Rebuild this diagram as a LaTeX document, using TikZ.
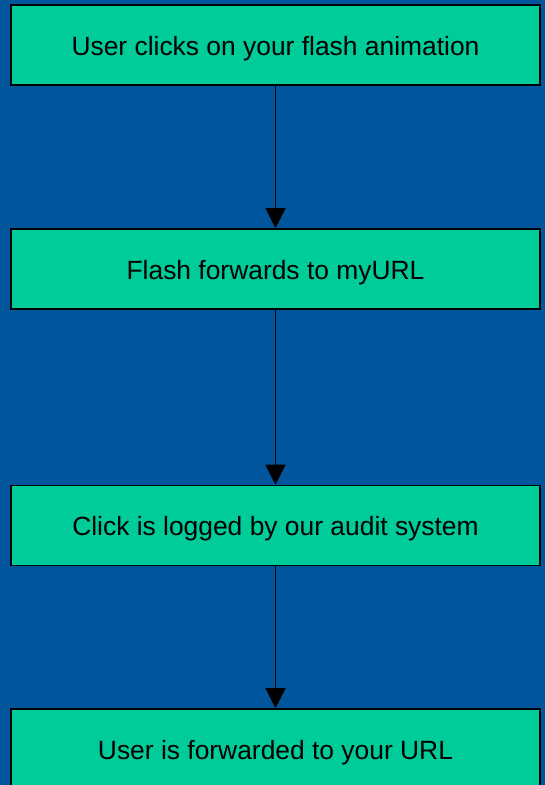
\documentclass[tikz,border=0pt]{standalone}
\usepackage{fontspec}
\setmainfont{Liberation Sans}
\usetikzlibrary{arrows.meta}
\definecolor{bgblue}{HTML}{00559C}
\definecolor{boxgreen}{HTML}{00CC99}
\begin{document}
\begin{tikzpicture}[x=1pt, y=-1pt,
  stepbox/.style={draw=black, line width=1.6pt, fill=boxgreen, minimum width=529pt, minimum height=80pt, font=\fontsize{26.4}{30}\selectfont, inner sep=0pt, text height=20pt, text depth=0pt},
  flow/.style={-{Triangle[width=20pt, length=20pt]}, line width=1.2pt, black}]
\fill[bgblue] (0,0) rectangle (545,785);
\useasboundingbox (0,0) rectangle (545,785);
\node[stepbox] (Click) at (275.5,45) {User clicks on your flash animation};
\node[stepbox] (Forward) at (275.5,269) {Flash forwards to myURL};
\node[stepbox] (Log) at (275.5,525.5) {Click is logged by our audit system};
\begin{scope}
\clip (0,0) rectangle (545,785);
\node[stepbox] (Redirect) at (275.5,749) {User is forwarded to your URL};
\end{scope}
\draw[flow] (Click) -- (Forward);
\draw[flow] (Forward) -- (Log);
\draw[flow] (Log) -- (Redirect);
\end{tikzpicture}
\end{document}
